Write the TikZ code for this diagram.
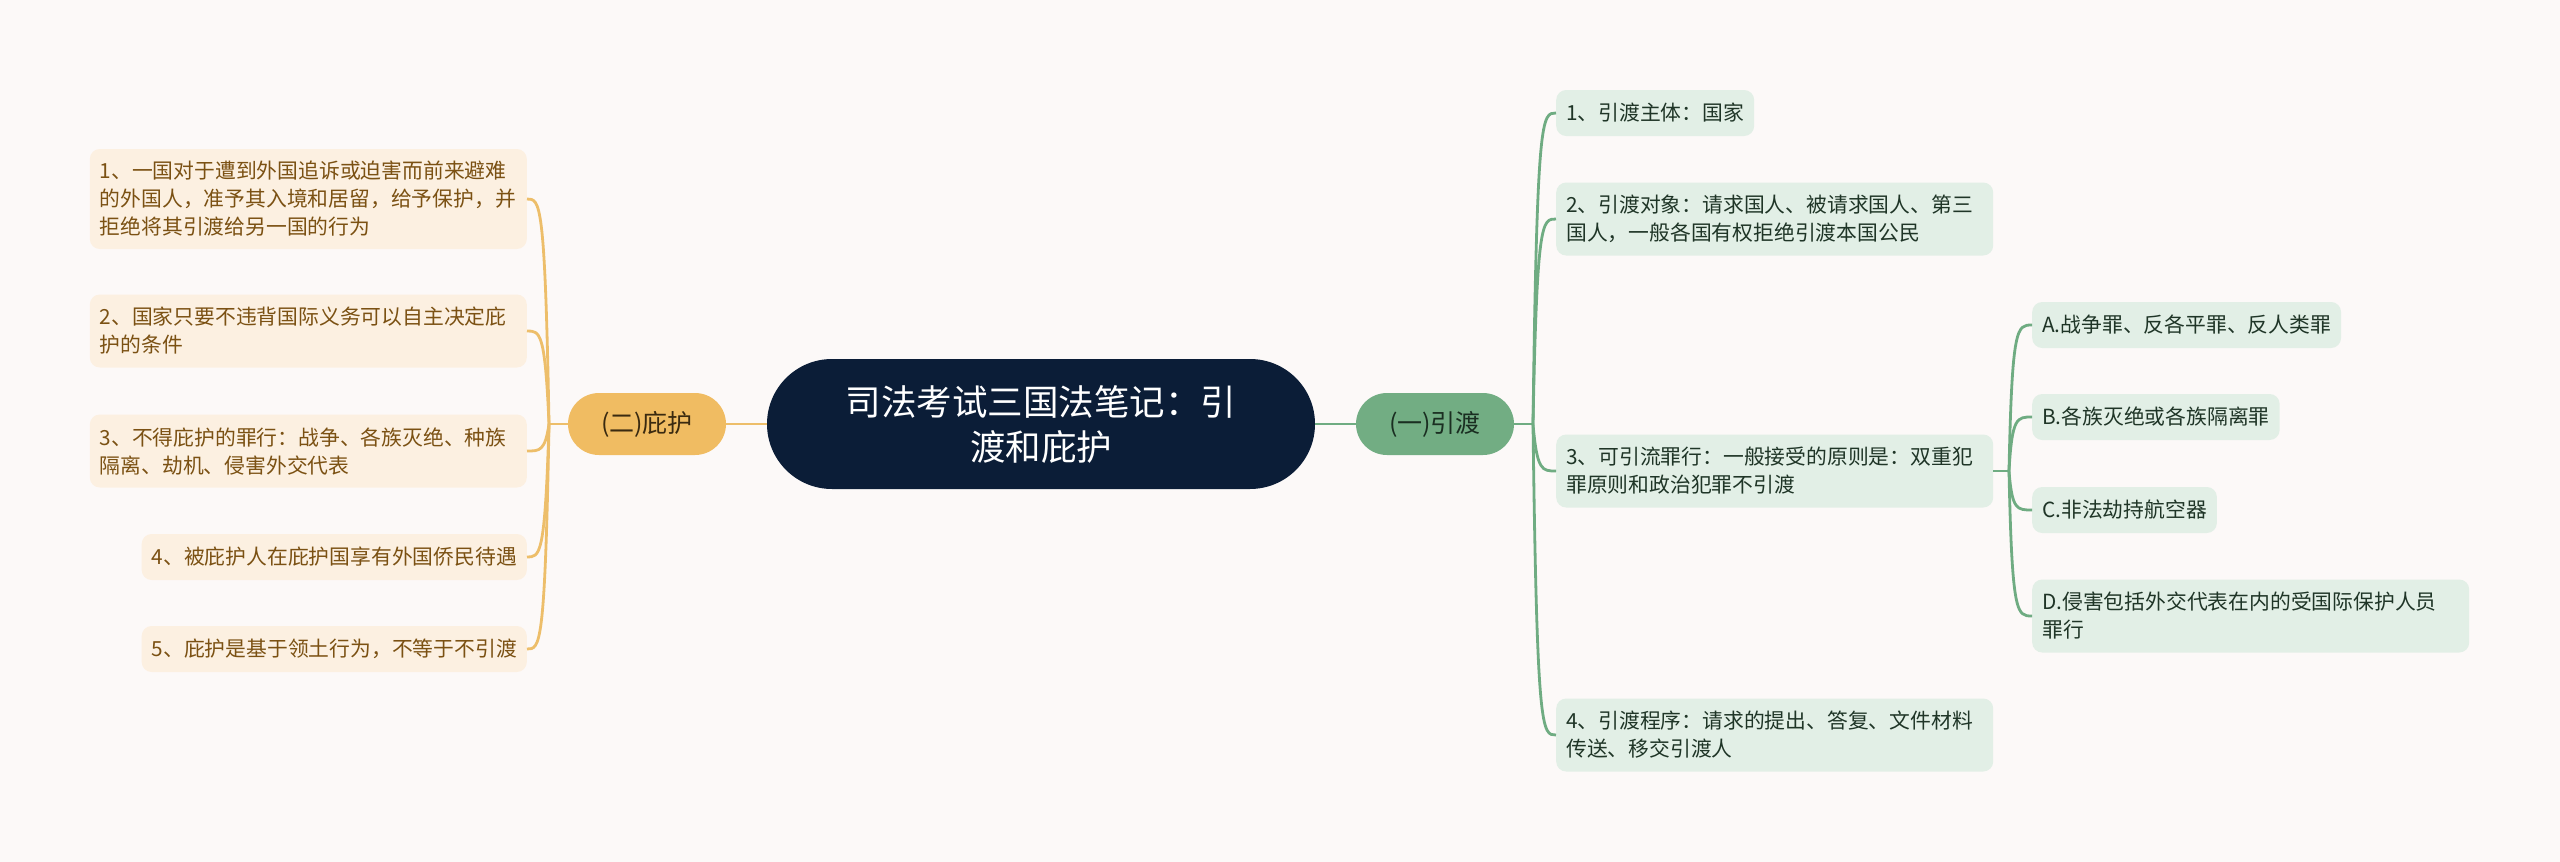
\documentclass[tikz,border=0pt]{standalone}
\usepackage{fontspec}
\newfontfamily\cjk{Noto Sans CJK SC}
\usetikzlibrary{calc}
\definecolor{bg}{HTML}{FCF9F8}
\definecolor{rootfill}{HTML}{0B1D37}
\definecolor{lbfill}{HTML}{F0BC62}
\definecolor{rbfill}{HTML}{72AD83}
\definecolor{lleaffill}{HTML}{FCF0E1}
\definecolor{rleaffill}{HTML}{E2EFE6}
\definecolor{ltext}{HTML}{7B5113}
\definecolor{rtext}{HTML}{1F3527}
\definecolor{lbtext}{HTML}{3A2A10}
\definecolor{rbtext}{HTML}{1A2E21}
\definecolor{lline}{HTML}{EDBE6A}
\definecolor{rline}{HTML}{6FAC82}
\begin{document}
\begin{tikzpicture}[x=1pt,y=-1pt,
  rootbox/.style={fill=rootfill, text=white, rounded corners=65pt, minimum width=548pt, minimum height=130pt, align=center, inner sep=0pt, font=\cjk\fontsize{35.5}{45}\selectfont},
  lbranch/.style={fill=lbfill, text=lbtext, rounded corners=31pt, minimum width=158pt, minimum height=62pt, inner sep=0pt, font=\cjk\fontsize{25}{30}\selectfont},
  rbranch/.style={fill=rbfill, text=rbtext, rounded corners=31pt, minimum width=158pt, minimum height=62pt, inner sep=0pt, font=\cjk\fontsize{25}{30}\selectfont},
  leafbase/.style={rounded corners=10pt, inner xsep=10pt, inner ysep=0pt, align=left, font=\cjk\fontsize{20.8}{28}\selectfont, minimum height=46pt},
  lleaf/.style={leafbase, fill=lleaffill, text=ltext, anchor=east},
  rleaf/.style={leafbase, fill=rleaffill, text=rtext, anchor=west},
  wide/.style={text width=417pt},
  lconn/.style={draw=lline, line width=2.8pt},
  rconn/.style={draw=rline, line width=2.8pt}
]
\path[use as bounding box, fill=bg] (0,0) rectangle (2560,862);

% central and branch nodes
\node[rootbox] (root) at (1041,424) {司法考试三国法笔记：引\\渡和庇护};
\node[lbranch] (b2) at (647,424) {(二)庇护};
\node[rbranch] (b1) at (1435,424) {(一)引渡};

% left leaves
\node[lleaf, wide, minimum height=100pt] (l1) at (527,199) {1、一国对于遭到外国追诉或迫害而前来避难\\的外国人，准予其入境和居留，给予保护，并\\拒绝将其引渡给另一国的行为};
\node[lleaf, wide, minimum height=73pt] (l2) at (527,331) {2、国家只要不违背国际义务可以自主决定庇\\护的条件};
\node[lleaf, wide, minimum height=73pt] (l3) at (527,451) {3、不得庇护的罪行：战争、各族灭绝、种族\\隔离、劫机、侵害外交代表};
\node[lleaf] (l4) at (527,557) {4、被庇护人在庇护国享有外国侨民待遇};
\node[lleaf] (l5) at (527,649) {5、庇护是基于领土行为，不等于不引渡};

% right leaves
\node[rleaf] (r1) at (1556,113) {1、引渡主体：国家};
\node[rleaf, wide, minimum height=73pt] (r2) at (1556,219) {2、引渡对象：请求国人、被请求国人、第三\\国人，一般各国有权拒绝引渡本国公民};
\node[rleaf, wide, minimum height=73pt] (r3) at (1556,471) {3、可引流罪行：一般接受的原则是：双重犯\\罪原则和政治犯罪不引渡};
\node[rleaf, wide, minimum height=73pt] (r4) at (1556,735) {4、引渡程序：请求的提出、答复、文件材料\\传送、移交引渡人};

% sub leaves of r3
\node[rleaf] (sa) at (2032,325) {A.战争罪、反各平罪、反人类罪};
\node[rleaf] (sb) at (2032,417) {B.各族灭绝或各族隔离罪};
\node[rleaf] (sc) at (2032,510) {C.非法劫持航空器};
\node[rleaf, wide, minimum height=73pt] (sd) at (2032,616) {D.侵害包括外交代表在内的受国际保护人员\\罪行};

% main connectors
\draw[lconn] (root.west) -- (b2.east);
\draw[rconn] (root.east) -- (b1.east -| root.east) -- (b1.west);

% left fork
\coordinate (lf) at (549,424);
\draw[lconn] (b2.west) -- (lf);
\foreach \n in {l1,l2,l3,l4,l5}{
  \draw[lconn] (lf) .. controls ($(lf |- \n.east)+(-4,0)$) and ($(lf |- \n.east)+(-9,0)$) .. (\n.east);
}

% right fork
\coordinate (rf) at (1533,424);
\draw[rconn] (b1.east) -- (rf);
\foreach \n in {r1,r2,r3,r4}{
  \draw[rconn] (rf) .. controls ($(rf |- \n.west)+(4,0)$) and ($(rf |- \n.west)+(9,0)$) .. (\n.west);
}

% sub fork
\coordinate (sf) at (2009,471);
\draw[rconn] (r3.east) -- (sf);
\foreach \n in {sa,sb,sc,sd}{
  \draw[rconn] (sf) .. controls ($(sf |- \n.west)+(3,0)$) and ($(sf |- \n.west)+(8,0)$) .. (\n.west);
}
\end{tikzpicture}
\end{document}
